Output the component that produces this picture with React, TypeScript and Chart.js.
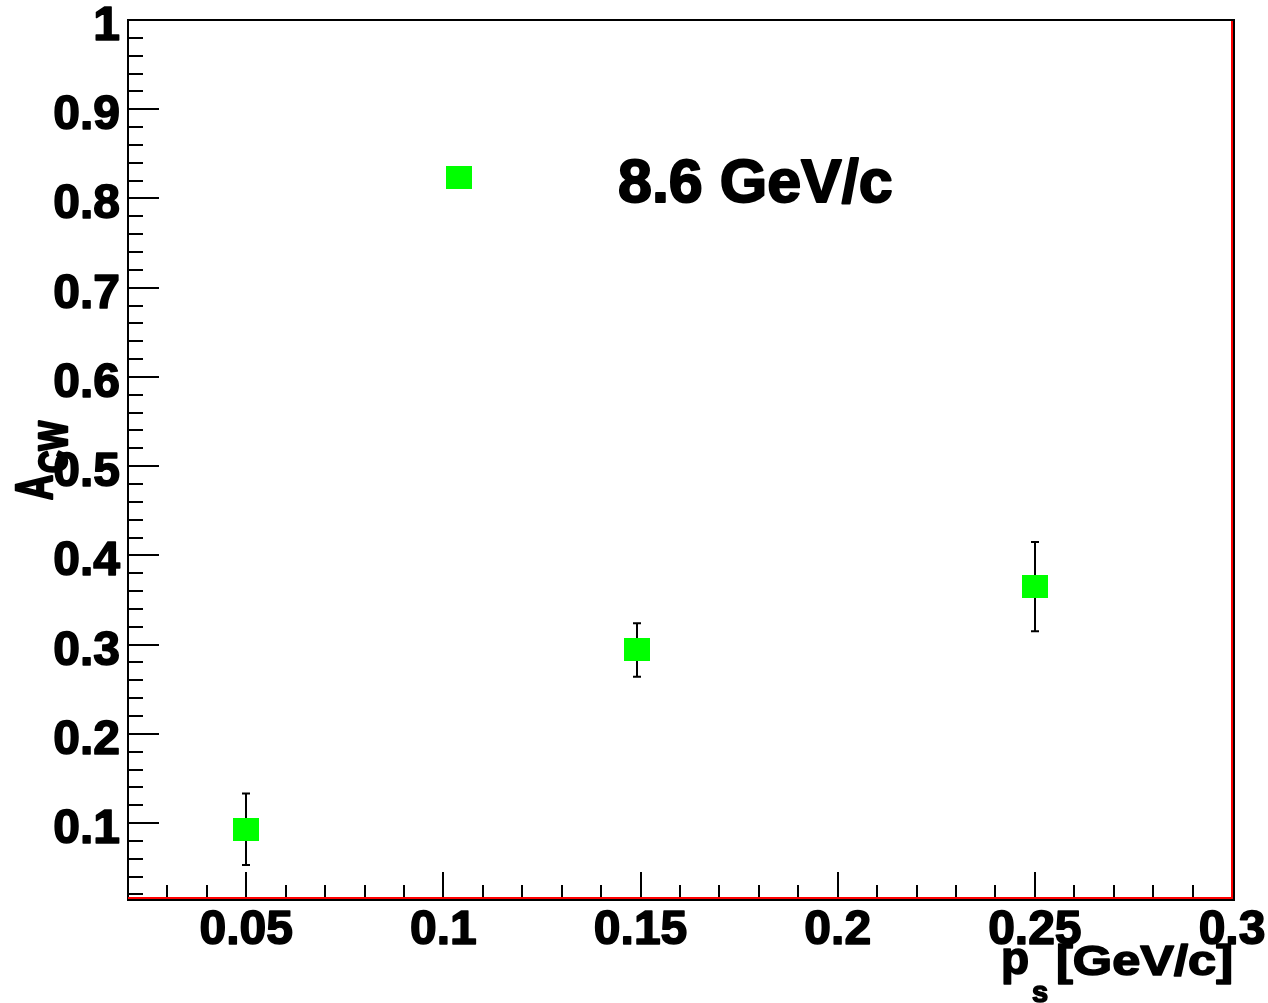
import React, { useEffect, useRef } from 'react';
import { Chart, registerables } from 'chart.js';

Chart.register(...registerables);

// ---- data ----
const xValues = [0.05, 0.104, 0.149, 0.25];
const yValues = [0.093, 0.823, 0.294, 0.365];
const yErrors = [0.04, 0.0, 0.03, 0.05];
const xTickLabels = ['0.05', '0.1', '0.15', '0.2', '0.25', '0.3'];
const yTickLabels = ['0.1', '0.2', '0.3', '0.4', '0.5', '0.6', '0.7', '0.8', '0.9', '1'];
const annotationText = '8.6 GeV/c';
const xTitleMain = 'p';
const xTitleSub = 's';
const xTitleRest = '[GeV/c]';
const yTitleMain = 'A';
const yTitleSub = 'CW';

const X_MIN = 0.02;
const X_MAX = 0.3;
const Y_MIN = 0.016;
const Y_MAX = 1.0;
const X_MINOR_STEP = 0.01;
const Y_MINOR_STEP = 0.02;

const FONT = '"Liberation Sans", Arial, Helvetica, sans-serif';

function boldText(ctx: CanvasRenderingContext2D, t: string, x: number, y: number, sw = 1.6) {
  ctx.lineWidth = sw;
  ctx.lineJoin = 'round';
  ctx.strokeStyle = '#000';
  ctx.strokeText(t, x, y);
  ctx.fillText(t, x, y);
}

export default function App() {
  const canvasRef = useRef<HTMLCanvasElement | null>(null);

  useEffect(() => {
    const canvas = canvasRef.current;
    if (!canvas) return;

    const marker = document.createElement('canvas');
    marker.width = 26;
    marker.height = 23;
    const mctx = marker.getContext('2d')!;
    mctx.fillStyle = '#00ff00';
    mctx.fillRect(0, 0, 26, 23);

    const errorBars = {
      id: 'errorBars',
      beforeDatasetsDraw(chart: any) {
        const ctx = chart.ctx;
        const xs = chart.scales.x;
        const ys = chart.scales.y;
        ctx.save();
        ctx.strokeStyle = '#000';
        ctx.lineWidth = 2;
        xValues.forEach((xv, i) => {
          const e = yErrors[i];
          if (!e) return;
          const px = Math.round(xs.getPixelForValue(xv));
          const top = ys.getPixelForValue(yValues[i] + e);
          const bot = ys.getPixelForValue(yValues[i] - e);
          ctx.beginPath();
          ctx.moveTo(px, top);
          ctx.lineTo(px, bot);
          ctx.moveTo(px - 4, top);
          ctx.lineTo(px + 4, top);
          ctx.moveTo(px - 4, bot);
          ctx.lineTo(px + 4, bot);
          ctx.stroke();
        });
        ctx.restore();
      },
    };

    const frame = {
      id: 'frame',
      afterDraw(chart: any) {
        const ctx = chart.ctx;
        const xs = chart.scales.x;
        const ys = chart.scales.y;
        const a = chart.chartArea;
        ctx.save();
        // ticks
        ctx.strokeStyle = '#000';
        ctx.lineWidth = 2;
        ctx.beginPath();
        const nY = Math.round((Y_MAX - 0.02) / Y_MINOR_STEP);
        for (let k = 0; k <= nY; k++) {
          const v = 0.02 + k * Y_MINOR_STEP;
          const major = k % 5 === 4;
          const py = Math.round(ys.getPixelForValue(v));
          if (py < a.top + 1 || py > a.bottom - 1) continue;
          ctx.moveTo(a.left, py);
          ctx.lineTo(a.left + (major ? 31 : 15), py);
        }
        const nX = Math.round((X_MAX - 0.03) / X_MINOR_STEP);
        for (let k = 0; k <= nX; k++) {
          const v = 0.03 + k * X_MINOR_STEP;
          const major = k % 5 === 2;
          const px = Math.round(xs.getPixelForValue(v));
          ctx.moveTo(px, a.bottom);
          ctx.lineTo(px, a.bottom - (major ? 26 : 13));
        }
        ctx.stroke();

        // frame lines
        ctx.lineWidth = 2;
        ctx.strokeStyle = '#000';
        ctx.beginPath();
        ctx.moveTo(a.left - 1, a.top);
        ctx.lineTo(a.right + 3, a.top);
        ctx.moveTo(a.left, a.top - 1);
        ctx.lineTo(a.left, a.bottom + 3);
        ctx.moveTo(a.left - 1, a.bottom + 2);
        ctx.lineTo(a.right + 3, a.bottom + 2);
        ctx.moveTo(a.right + 2, a.top - 1);
        ctx.lineTo(a.right + 2, a.bottom + 3);
        ctx.stroke();
        ctx.strokeStyle = '#ff0000';
        ctx.beginPath();
        ctx.moveTo(a.left, a.bottom);
        ctx.lineTo(a.right + 1, a.bottom);
        ctx.moveTo(a.right, a.top + 1);
        ctx.lineTo(a.right, a.bottom + 1);
        ctx.stroke();

        // tick labels
        ctx.fillStyle = '#000';
        ctx.font = `bold 48px ${FONT}`;
        ctx.textAlign = 'right';
        ctx.textBaseline = 'alphabetic';
        yTickLabels.forEach((t) => {
          const py = ys.getPixelForValue(parseFloat(t));
          boldText(ctx, t, 120, py + 20);
        });
        ctx.textAlign = 'center';
        xTickLabels.forEach((t) => {
          const px = xs.getPixelForValue(parseFloat(t));
          boldText(ctx, t, px, 944);
        });

        // x title
        ctx.textAlign = 'left';
        ctx.font = `bold 46px ${FONT}`;
        boldText(ctx, xTitleMain, 1001, 974);
        ctx.font = `bold 29px ${FONT}`;
        boldText(ctx, xTitleSub, 1032, 1002);
        ctx.font = `bold 43px ${FONT}`;
        const w = ctx.measureText(xTitleRest).width;
        ctx.save();
        ctx.translate(1056, 975);
        ctx.scale(177 / w, 1);
        boldText(ctx, xTitleRest, 0, 0);
        ctx.restore();

        // y title (rotated)
        ctx.save();
        ctx.translate(52, 500);
        ctx.rotate(-Math.PI / 2);
        ctx.font = `bold 52px ${FONT}`;
        const wa = ctx.measureText(yTitleMain).width;
        ctx.save();
        ctx.scale(25 / wa, 1);
        boldText(ctx, yTitleMain, 0, 0, 2.5);
        ctx.restore();
        ctx.font = `bold 40px ${FONT}`;
        const wc = ctx.measureText(yTitleSub).width;
        ctx.save();
        ctx.translate(27, 15);
        ctx.scale(52 / wc, 1);
        boldText(ctx, yTitleSub, 0, 0, 2.5);
        ctx.restore();
        ctx.restore();

        // annotation
        ctx.font = `bold 61px ${FONT}`;
        ctx.textAlign = 'left';
        boldText(ctx, annotationText, 618, 202, 2);

        ctx.restore();
      },
    };

    const chart = new Chart(canvas, {
      type: 'scatter',
      data: {
        datasets: [
          {
            data: xValues.map((x, i) => ({ x, y: yValues[i] })),
            pointStyle: marker as any,
            pointRadius: 13,
            pointHoverRadius: 13,
            backgroundColor: '#00ff00',
            borderColor: '#00ff00',
          },
        ],
      },
      options: {
        responsive: false,
        animation: false,
        events: [],
        layout: { padding: { left: 128, right: 36, top: 20, bottom: 105 } },
        plugins: { legend: { display: false }, tooltip: { enabled: false } },
        scales: {
          x: { type: 'linear', min: X_MIN, max: X_MAX, display: false },
          y: { type: 'linear', min: Y_MIN, max: Y_MAX, display: false },
        },
      },
      plugins: [errorBars, frame],
    });

    return () => chart.destroy();
  }, []);

  return (
    <div style={{ position: 'absolute', left: 0, top: 0, width: 1268, height: 1003, background: '#fff' }}>
      <canvas ref={canvasRef} width={1268} height={1003} />
    </div>
  );
}
